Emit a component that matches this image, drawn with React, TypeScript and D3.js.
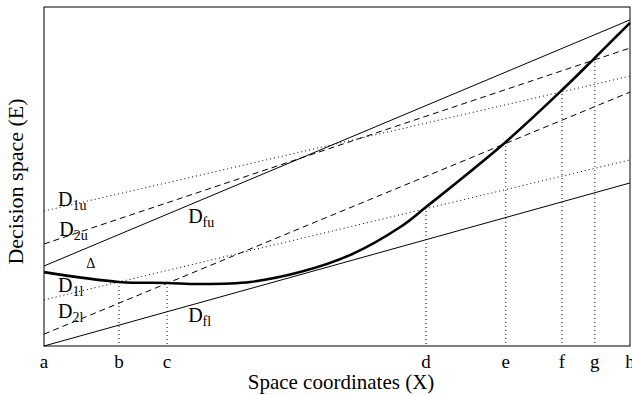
import * as d3 from "d3";

// x positions of the named points a..h on the space axis
const tickNames = ["a", "b", "c", "d", "e", "f", "g", "h"];
const tickValues = [0, 1.28, 2.1, 6.52, 7.88, 8.84, 9.4, 10];

// straight decision lines: value at a (x=0) and at h (x=10)
const lineIds = ["Dfu", "Dfl", "D1u", "D2u", "D1l", "D2l"];
const lineStart = [2.36, 0, 3.98, 3.01, 1.36, 0.35];
const lineEnd = [9.62, 4.81, 7.96, 8.79, 5.49, 7.49];
const lineKind = ["solid", "solid", "dotted", "dashed", "dotted", "dashed"];

// the thick curve
const curveX = [0, 1.28, 2.1, 2.66, 3.52, 4.37, 5.22, 6.08, 6.52, 7.88, 8.84, 9.4, 10];
const curveY = [2.18, 1.89, 1.86, 1.83, 1.89, 2.18, 2.68, 3.51, 4.1, 6.02, 7.55, 8.5, 9.53];

// labels: main letter, subscript, position in data units
const labelMain = ["D", "D", "D", "D", "D", "D", "\u0394"];
const labelSub = ["1u", "2u", "fu", "1l", "2l", "fl", ""];
const labelX = [0.24, 0.26, 2.46, 0.24, 0.24, 2.46, 0.72];
const labelY = [4.13, 3.24, 3.63, 1.59, 0.83, 0.71, 2.29];

const width = 632;
const height = 395;
const left = 44;
const right = 630;
const top = 7;
const bottom = 346;
const font = "'Liberation Serif', 'Times New Roman', serif";

const App = () => {
  const x = d3.scaleLinear().domain([0, 10]).range([left, right]);
  const y = d3.scaleLinear().domain([0, 10]).range([bottom, top]);

  const straight = d3
    .line<number[]>()
    .x((d) => x(d[0]))
    .y((d) => y(d[1]));

  const curve = d3
    .line<number>()
    .x((d, i) => x(curveX[i]))
    .y((d) => y(d))
    .curve(d3.curveCatmullRom);

  const dashFor = (k: string) => (k === "dotted" ? "1,3" : k === "dashed" ? "6,4" : null);

  // guide line tops = curve value at each tick (b..g)
  const guideTop = tickValues.map((t) => {
    const i = curveX.indexOf(t);
    return i >= 0 ? curveY[i] : null;
  });

  return (
    <svg
      width={width}
      height={height}
      style={{ position: "absolute", left: 0, top: 0, background: "#fff" }}
      fontFamily={font}
    >
      {/* dotted guides */}
      {tickValues.map((t, i) =>
        i > 0 && i < tickValues.length - 1 && guideTop[i] != null ? (
          <line
            key={"g" + i}
            x1={x(t)}
            x2={x(t)}
            y1={y(guideTop[i] as number)}
            y2={y(0)}
            stroke="#000"
            strokeWidth={1}
            strokeDasharray="1,3"
          />
        ) : null
      )}

      {/* straight lines */}
      {lineIds.map((id, i) => (
        <path
          key={id}
          d={straight([
            [0, lineStart[i]],
            [10, lineEnd[i]],
          ]) as string}
          fill="none"
          stroke="#000"
          strokeWidth={1}
          strokeDasharray={dashFor(lineKind[i]) ?? undefined}
        />
      ))}

      {/* thick curve */}
      <path d={curve(curveY) as string} fill="none" stroke="#000" strokeWidth={2.6} />

      {/* frame */}
      <rect x={left} y={top} width={right - left} height={bottom - top} fill="none" stroke="#000" strokeWidth={1} />

      {/* line labels */}
      {labelMain.map((m, i) => (
        <text
          key={"l" + i}
          x={x(labelX[i])}
          y={y(labelY[i])}
          fontSize={m === "D" ? 20 : 14}
          fill="#000"
        >
          {m}
          {labelSub[i] && (
            <tspan dy={4} fontSize={14}>
              {labelSub[i]}
            </tspan>
          )}
        </text>
      ))}

      {/* tick labels */}
      {tickNames.map((n, i) => (
        <text key={n} x={x(tickValues[i])} y={368} textAnchor="middle" fontSize={19} fill="#000">
          {n}
        </text>
      ))}

      {/* axis titles */}
      <text x={(left + right) / 2 + 4} y={389} textAnchor="middle" fontSize={21} fill="#000">
        Space coordinates (X)
      </text>
      <text
        transform={`translate(23, ${(top + bottom) / 2 + 5}) rotate(-90)`}
        textAnchor="middle"
        fontSize={22}
        fill="#000"
      >
        Decision space (E)
      </text>
    </svg>
  );
};

export default App;
